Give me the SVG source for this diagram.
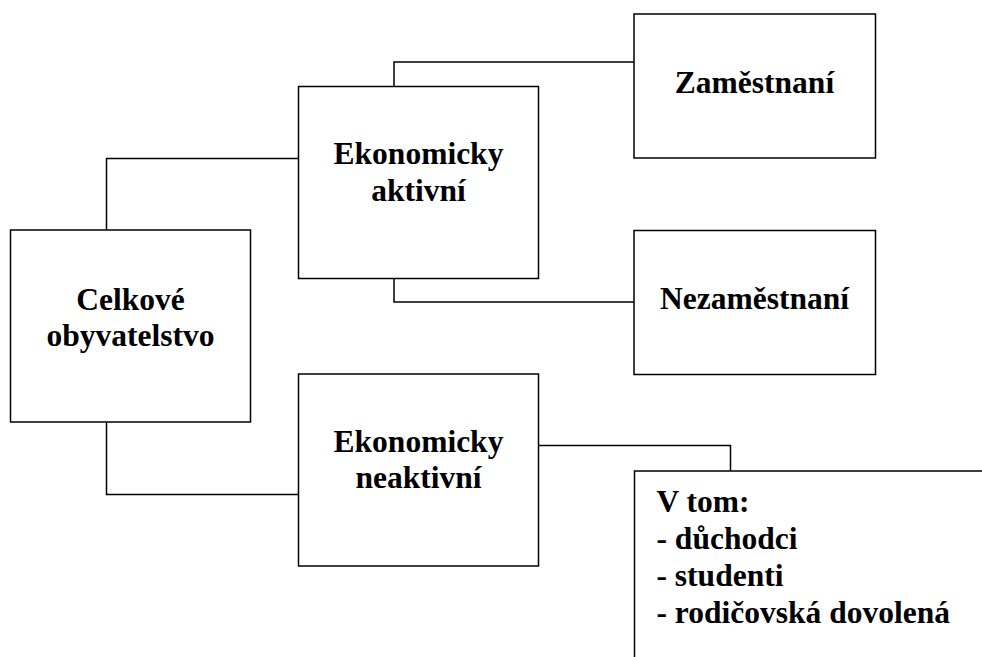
<svg xmlns="http://www.w3.org/2000/svg" width="982" height="657" viewBox="0 0 982 657">
<style>
.box{fill:#fff;stroke:#000;stroke-width:1.5}
.conn{fill:none;stroke:#000;stroke-width:1.5}
text{font-family:'Liberation Serif','DejaVu Serif',serif;font-weight:bold;font-size:31.5px;fill:#000}
.c{text-anchor:middle}
</style>
<rect width="982" height="657" fill="#fff"/>
<g id="connectors">
<polyline class="conn" points="106.5,230 106.5,158.5 298,158.5"/>
<polyline class="conn" points="106.5,422 106.5,494.5 298,494.5"/>
<polyline class="conn" points="394,86.5 394,62 634,62"/>
<polyline class="conn" points="394,278.5 394,302 634,302"/>
<polyline class="conn" points="538.5,445.5 730.5,445.5 730.5,471"/>
</g>
<g id="celkove">
<rect class="box" x="10.5" y="230" width="240" height="192"/>
<text class="c" x="130.5" y="310" font-family="Liberation Serif, serif">Celkové</text>
<text class="c" x="130.5" y="346" font-family="Liberation Serif, serif">obyvatelstvo</text>
</g>
<g id="aktivni">
<rect class="box" x="298.5" y="86.5" width="240" height="192"/>
<text class="c" x="418.5" y="163.5" font-family="Liberation Serif, serif">Ekonomicky</text>
<text class="c" x="418.5" y="200.5" font-family="Liberation Serif, serif">aktivní</text>
</g>
<g id="neaktivni">
<rect class="box" x="298.5" y="374" width="240" height="192"/>
<text class="c" x="418.5" y="451.5" font-family="Liberation Serif, serif">Ekonomicky</text>
<text class="c" x="418.5" y="488" font-family="Liberation Serif, serif">neaktivní</text>
</g>
<g id="zamestnani">
<rect class="box" x="634" y="14" width="241.5" height="144"/>
<text class="c" x="754.5" y="92.5" font-family="Liberation Serif, serif">Zaměstnaní</text>
</g>
<g id="nezamestnani">
<rect class="box" x="634" y="230.5" width="241.5" height="144"/>
<text class="c" x="754.5" y="309" font-family="Liberation Serif, serif">Nezaměstnaní</text>
</g>
<g id="vtom">
<rect class="box" x="634.5" y="471" width="400" height="250"/>
<text x="656.5" y="511.5" font-family="Liberation Serif, serif">V tom:</text>
<text x="656.5" y="548.5" font-family="Liberation Serif, serif">- důchodci</text>
<text x="656.5" y="585.5" font-family="Liberation Serif, serif">- studenti</text>
<text x="656.5" y="623" font-family="Liberation Serif, serif">- rodičovská dovolená</text>
</g>
</svg>
